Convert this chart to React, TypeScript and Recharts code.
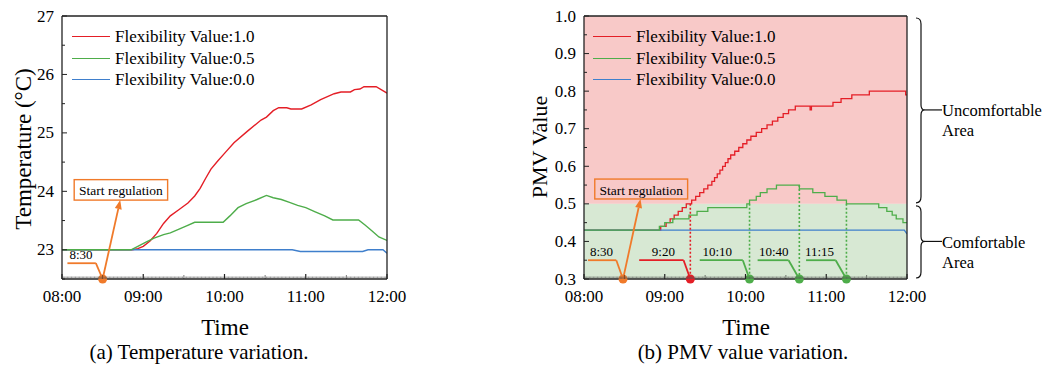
import React from 'react';
import {
  ComposedChart,
  Line,
  XAxis,
  YAxis,
  Legend,
  ReferenceArea,
  ReferenceLine,
  ReferenceDot,
} from 'recharts';

const FONT = '"Liberation Serif", "Times New Roman", serif';
const AXIS = '#222';
const INK = '#000';
const RED = '#e41e26';
const GREEN = '#4ead4a';
const BLUE = '#3f7fcc';
const ORANGE = '#f07a2a';
const PINK_BG = '#f8c9c8';
const GREEN_BG = '#d7e8d3';

const SERIES_NAMES = ['Flexibility Value:1.0', 'Flexibility Value:0.5', 'Flexibility Value:0.0'];
const SERIES_COLORS = [RED, GREEN, BLUE];

// x values are minutes after 08:00
const HOUR_LABELS = ['08:00', '09:00', '10:00', '11:00', '12:00'];
const MINUTE_TICKS = Array.from({ length: 241 }, (_, i) => i);
const FRAME_TICKS = [0, 1, 2, 3, 4, 5, 6, 7, 8, 9, 10];
const TEMP_TICKS = [22.5, 23, 23.5, 24, 24.5, 25, 25.5, 26, 26.5, 27];
const PMV_TICKS = [0.3, 0.35, 0.4, 0.45, 0.5, 0.55, 0.6, 0.65, 0.7, 0.75, 0.8, 0.85, 0.9, 0.95, 1.0];

// (a) temperature
const TEMP_T_10 = [0, 52, 56, 60, 65, 70, 75, 80, 86, 93, 98, 102, 106, 110, 115, 120, 127, 137, 147, 151, 156, 160, 166, 169, 177, 184, 191, 201, 206, 213, 216, 220, 223, 232, 240];
const TEMP_V_10 = [23.0, 23.0, 23.02, 23.06, 23.15, 23.28, 23.45, 23.58, 23.68, 23.8, 23.92, 24.05, 24.22, 24.38, 24.52, 24.65, 24.83, 25.03, 25.22, 25.27, 25.38, 25.43, 25.43, 25.41, 25.41, 25.48, 25.57, 25.67, 25.7, 25.7, 25.74, 25.75, 25.79, 25.79, 25.68];
const TEMP_T_05 = [0, 51, 56, 62, 68, 75, 80, 86, 92, 98, 119, 124, 130, 136, 144, 151, 156, 162, 168, 174, 180, 187, 194, 200, 219, 224, 229, 234, 240];
const TEMP_V_05 = [23.0, 23.0, 23.06, 23.13, 23.2, 23.26, 23.29, 23.35, 23.41, 23.47, 23.47, 23.58, 23.72, 23.79, 23.86, 23.93, 23.89, 23.86, 23.81, 23.76, 23.72, 23.65, 23.58, 23.51, 23.51, 23.42, 23.32, 23.22, 23.16];
const TEMP_T_00 = [0, 170, 176, 222, 226, 237, 240];
const TEMP_V_00 = [23.0, 23.0, 22.97, 22.97, 23.0, 23.0, 22.94];

// (b) PMV
const PMV_T_10 = [0, 57, 61, 64, 67, 70, 73, 76, 80, 83, 86, 89, 92, 95, 97, 99, 101, 103, 105, 107, 109, 112, 115, 118, 121, 124, 128, 132, 136, 140, 144, 148, 152, 157, 168, 169, 185, 191, 199, 212, 239, 240];
const PMV_V_10 = [0.43, 0.44, 0.45, 0.46, 0.47, 0.48, 0.49, 0.5, 0.51, 0.52, 0.53, 0.54, 0.55, 0.56, 0.57, 0.58, 0.59, 0.6, 0.61, 0.62, 0.63, 0.64, 0.65, 0.66, 0.67, 0.68, 0.69, 0.7, 0.71, 0.72, 0.73, 0.74, 0.75, 0.76, 0.75, 0.76, 0.77, 0.78, 0.79, 0.8, 0.79, 0.79];
const PMV_T_05 = [0, 56, 60, 66, 78, 84, 92, 121, 123, 128, 131, 136, 143, 160, 170, 179, 188, 195, 219, 225, 229, 232, 237, 240];
const PMV_V_05 = [0.43, 0.44, 0.45, 0.46, 0.47, 0.48, 0.49, 0.5, 0.51, 0.52, 0.53, 0.54, 0.55, 0.54, 0.53, 0.52, 0.51, 0.5, 0.49, 0.48, 0.47, 0.46, 0.45, 0.45];
const PMV_T_00 = [0, 238, 240];
const PMV_V_00 = [0.43, 0.43, 0.42];

// annotations: callout line start/knee, marker time, label centre
const TEMP_CALLOUTS = [{ label: '8:30', color: ORANGE, x0: 4, x1: 25, xd: 30, lx: 14 }];
const PMV_CALLOUTS = [
  { label: '8:30', color: ORANGE, x0: 3, x1: 24, xd: 29, lx: 13 },
  { label: '9:20', color: RED, x0: 41, x1: 74, xd: 79, lx: 59 },
  { label: '10:10', color: GREEN, x0: 86, x1: 118, xd: 123, lx: 99 },
  { label: '10:40', color: GREEN, x0: 129, x1: 152, xd: 160, lx: 141 },
  { label: '11:15', color: GREEN, x0: 165, x1: 187, xd: 195, lx: 175 },
];
const PMV_DROPS = [
  { x: 79, top: 0.5, color: RED },
  { x: 123, top: 0.5, color: GREEN },
  { x: 160, top: 0.55, color: GREEN },
  { x: 195, top: 0.5, color: GREEN },
];

const zip = (t: number[], v: number[]) => t.map((x, i) => ({ t: x, v: v[i] }));

const txt: React.CSSProperties = { fontFamily: FONT };

const BottomTick = (props: any) => {
  const { x, y, payload } = props;
  const m = payload.value as number;
  const hour = m % 60 === 0;
  const half = m % 30 === 0;
  const len = hour ? 5 : half ? 4 : 2.5;
  return (
    <g>
      <line x1={x} y1={y} x2={x} y2={y - len} stroke={hour || half ? AXIS : '#555'} strokeWidth={hour ? 1.2 : 0.6} />
      {hour && (
        <text x={x} y={y + 17} textAnchor="middle" dominantBaseline="central" fontSize={17} style={txt} fill={INK}>
          {HOUR_LABELS[m / 60]}
        </text>
      )}
    </g>
  );
};

const TopTick = (props: any) => {
  const { x, y, payload } = props;
  const major = payload.value % 2 === 0;
  return <line x1={x} y1={y} x2={x} y2={y + (major ? 5 : 3)} stroke={AXIS} strokeWidth={1} />;
};

const RightTick = (props: any) => {
  const { x, y, payload } = props;
  const major = payload.value % 2 === 0;
  return <line x1={x} y1={y} x2={x - (major ? 5 : 3)} y2={y} stroke={AXIS} strokeWidth={1} />;
};

function makeLeftTick(isMajor: (v: number) => boolean, fmt: (v: number) => string) {
  return (props: any) => {
    const { x, y, payload } = props;
    const v = payload.value as number;
    const major = isMajor(v);
    return (
      <g>
        <line x1={x} y1={y} x2={x + (major ? 5 : 3)} y2={y} stroke={AXIS} strokeWidth={1} />
        {major && (
          <text x={x - 8} y={y} textAnchor="end" dominantBaseline="central" fontSize={17} style={txt} fill={INK}>
            {fmt(v)}
          </text>
        )}
      </g>
    );
  };
}

const arrowShape = (p: any) => {
  const { x1, y1, x2, y2 } = p;
  const a = Math.atan2(y2 - y1, x2 - x1);
  const bx = x2 - 9 * Math.cos(a);
  const by = y2 - 9 * Math.sin(a);
  const px = -Math.sin(a) * 3.5;
  const py = Math.cos(a) * 3.5;
  return (
    <g>
      <line x1={x1} y1={y1} x2={bx} y2={by} stroke={ORANGE} strokeWidth={1.8} />
      <polygon points={`${x2},${y2} ${bx + px},${by + py} ${bx - px},${by - py}`} fill={ORANGE} />
    </g>
  );
};

const boxShape = (p: any) => (
  <g>
    <rect x={p.x} y={p.y} width={p.width} height={p.height} fill="none" stroke={ORANGE} strokeWidth={1.4} />
    <text
      x={p.x + p.width / 2}
      y={p.y + p.height / 2 + 1}
      textAnchor="middle"
      dominantBaseline="central"
      fontSize={13.5}
      style={txt}
      fill={INK}
    >
      Start regulation
    </text>
  </g>
);

const calloutText = (label: string) => (p: any) => (
  <text x={p.cx} y={p.cy - 9} textAnchor="middle" dominantBaseline="central" fontSize={13} style={txt} fill={INK}>
    {label}
  </text>
);

function zoneShape(fill: string, lines: string[]) {
  return (p: any) => {
    const { x, y, width, height } = p;
    const bx = x + width + 14;
    const ym = y + height / 2;
    const y0 = y + 2;
    const y1 = y + height - 1;
    const d = `M${bx - 5},${y0} Q${bx},${y0} ${bx},${y0 + 6} L${bx},${ym - 5} Q${bx},${ym} ${bx + 4},${ym} Q${bx},${ym} ${bx},${ym + 5} L${bx},${y1 - 6} Q${bx},${y1} ${bx - 5},${y1}`;
    return (
      <g>
        <rect x={x} y={y} width={width} height={height} fill={fill} />
        <path d={d} fill="none" stroke="#111" strokeWidth={1.2} />
        <line x1={bx + 4} y1={ym} x2={bx + 21} y2={ym} stroke="#111" strokeWidth={1.2} />
        {lines.map((s, i) => (
          <text key={s} x={bx + 21} y={ym + 1 + i * 20} dominantBaseline="central" fontSize={16.5} style={txt} fill={INK}>
            {s}
          </text>
        ))}
      </g>
    );
  };
}

const legendContent = () => (
  <div style={{ fontFamily: FONT, fontSize: 17, color: INK, lineHeight: 1 }}>
    {SERIES_NAMES.map((n, i) => (
      <div key={n} style={{ display: 'flex', alignItems: 'center', height: 21.5, whiteSpace: 'nowrap' }}>
        <span style={{ width: 38, height: 0, borderTop: `1.6px solid ${SERIES_COLORS[i]}`, marginRight: 5 }} />
        <span>{n}</span>
      </div>
    ))}
  </div>
);

function TempChart() {
  return (
    <ComposedChart width={420} height={367} margin={{ top: 15, right: 32, left: 0, bottom: 58 }}>
      <XAxis
        dataKey="t"
        type="number"
        domain={[0, 240]}
        allowDataOverflow
        ticks={MINUTE_TICKS}
        interval={0}
        height={30}
        tickSize={0}
        tickMargin={0}
        tickLine={false}
        tick={BottomTick}
        axisLine={{ stroke: AXIS, strokeWidth: 1.3 }}
      />
      <XAxis xAxisId="top" orientation="top" type="number" domain={[0, 10]} ticks={FRAME_TICKS} interval={0} height={1} tickSize={0} tickMargin={0} tickLine={false} tick={TopTick} axisLine={{ stroke: AXIS, strokeWidth: 1.3 }} />
      <YAxis
        type="number"
        domain={[22.5, 27]}
        allowDataOverflow
        ticks={TEMP_TICKS}
        interval={0}
        width={62}
        tickSize={0}
        tickMargin={0}
        tickLine={false}
        tick={makeLeftTick((v) => Number.isInteger(v), (v) => String(v))}
        axisLine={{ stroke: AXIS, strokeWidth: 1.3 }}
      />
      <YAxis yAxisId="frame" orientation="right" type="number" domain={[0, 10]} ticks={FRAME_TICKS} interval={0} width={1} tickSize={0} tickMargin={0} tickLine={false} tick={RightTick} axisLine={{ stroke: AXIS, strokeWidth: 1.3 }} />
      <Legend content={legendContent} layout="vertical" align="center" verticalAlign="middle" wrapperStyle={{ left: 72, top: 26, width: 'auto' }} />

      <Line data={zip(TEMP_T_10, TEMP_V_10)} dataKey="v" name={SERIES_NAMES[0]} stroke={RED} strokeWidth={1.4} dot={false} isAnimationActive={false} />
      <Line data={zip(TEMP_T_00, TEMP_V_00)} dataKey="v" name={SERIES_NAMES[2]} stroke={BLUE} strokeWidth={1.4} dot={false} isAnimationActive={false} />
      <Line data={zip(TEMP_T_05, TEMP_V_05)} dataKey="v" name={SERIES_NAMES[1]} stroke={GREEN} strokeWidth={1.4} dot={false} isAnimationActive={false} />

      <ReferenceArea x1={9} x2={78} y1={23.85} y2={24.2} shape={boxShape} ifOverflow="visible" />
      <ReferenceLine segment={[{ x: 30, y: 22.5 }, { x: 43, y: 23.85 }]} shape={arrowShape} ifOverflow="visible" />
      {TEMP_CALLOUTS.map((c) => (
        <React.Fragment key={c.label}>
          <ReferenceLine segment={[{ x: c.x0, y: 22.77 }, { x: c.x1, y: 22.77 }]} stroke={c.color} strokeWidth={1.8} ifOverflow="visible" />
          <ReferenceLine segment={[{ x: c.x1, y: 22.77 }, { x: c.xd, y: 22.5 }]} stroke={c.color} strokeWidth={1.8} ifOverflow="visible" />
          <ReferenceDot x={c.lx} y={22.77} r={0} shape={calloutText(c.label)} ifOverflow="visible" />
          <ReferenceDot x={c.xd} y={22.5} r={4.5} fill={c.color} stroke="none" ifOverflow="visible" />
        </React.Fragment>
      ))}
    </ComposedChart>
  );
}

function PmvChart() {
  return (
    <ComposedChart width={526} height={367} margin={{ top: 15, right: 138, left: 0, bottom: 58 }}>
      <XAxis
        dataKey="t"
        type="number"
        domain={[0, 240]}
        allowDataOverflow
        ticks={MINUTE_TICKS}
        interval={0}
        height={30}
        tickSize={0}
        tickMargin={0}
        tickLine={false}
        tick={BottomTick}
        axisLine={{ stroke: AXIS, strokeWidth: 1.3 }}
      />
      <XAxis xAxisId="top" orientation="top" type="number" domain={[0, 10]} ticks={FRAME_TICKS} interval={0} height={1} tickSize={0} tickMargin={0} tickLine={false} tick={TopTick} axisLine={{ stroke: AXIS, strokeWidth: 1.3 }} />
      <YAxis
        type="number"
        domain={[0.3, 1.0]}
        allowDataOverflow
        ticks={PMV_TICKS}
        interval={0}
        width={64}
        tickSize={0}
        tickMargin={0}
        tickLine={false}
        tick={makeLeftTick((v) => Math.round(v * 100) % 10 === 0, (v) => v.toFixed(1))}
        axisLine={{ stroke: AXIS, strokeWidth: 1.3 }}
      />
      <YAxis yAxisId="frame" orientation="right" type="number" domain={[0, 10]} ticks={FRAME_TICKS} interval={0} width={1} tickSize={0} tickMargin={0} tickLine={false} tick={RightTick} axisLine={{ stroke: AXIS, strokeWidth: 1.3 }} />
      <Legend content={legendContent} layout="vertical" align="center" verticalAlign="middle" wrapperStyle={{ left: 73, top: 26, width: 'auto' }} />

      <ReferenceArea y1={0.5} y2={1.0} shape={zoneShape(PINK_BG, ['Uncomfortable', 'Area'])} ifOverflow="visible" />
      <ReferenceArea y1={0.3} y2={0.5} shape={zoneShape(GREEN_BG, ['Comfortable', 'Area'])} ifOverflow="visible" />

      <Line data={zip(PMV_T_10, PMV_V_10)} dataKey="v" name={SERIES_NAMES[0]} type="stepAfter" stroke={RED} strokeWidth={1.3} dot={false} isAnimationActive={false} />
      <Line data={zip(PMV_T_00, PMV_V_00)} dataKey="v" name={SERIES_NAMES[2]} stroke={BLUE} strokeWidth={1.4} dot={false} isAnimationActive={false} />
      <Line data={zip(PMV_T_05, PMV_V_05)} dataKey="v" name={SERIES_NAMES[1]} type="stepAfter" stroke={GREEN} strokeWidth={1.3} dot={false} isAnimationActive={false} />

      {PMV_DROPS.map((d) => (
        <ReferenceLine key={d.x} segment={[{ x: d.x, y: d.top }, { x: d.x, y: 0.3 }]} stroke={d.color} strokeWidth={1.6} strokeDasharray="2 2" ifOverflow="visible" />
      ))}
      <ReferenceArea x1={8} x2={77} y1={0.513} y2={0.566} shape={boxShape} ifOverflow="visible" />
      <ReferenceLine segment={[{ x: 29, y: 0.3 }, { x: 42, y: 0.513 }]} shape={arrowShape} ifOverflow="visible" />
      {PMV_CALLOUTS.map((c) => (
        <React.Fragment key={c.label}>
          <ReferenceLine segment={[{ x: c.x0, y: 0.35 }, { x: c.x1, y: 0.35 }]} stroke={c.color} strokeWidth={1.8} ifOverflow="visible" />
          <ReferenceLine segment={[{ x: c.x1, y: 0.35 }, { x: c.xd, y: 0.3 }]} stroke={c.color} strokeWidth={1.8} ifOverflow="visible" />
          <ReferenceDot x={c.lx} y={0.35} r={0} shape={calloutText(c.label)} ifOverflow="visible" />
          <ReferenceDot x={c.xd} y={0.3} r={4.5} fill={c.color} stroke="none" ifOverflow="visible" />
        </React.Fragment>
      ))}
    </ComposedChart>
  );
}

const textStyle: React.CSSProperties = {
  position: 'absolute',
  fontFamily: FONT,
  color: INK,
  lineHeight: 1,
  whiteSpace: 'nowrap',
  transform: 'translate(-50%, -50%)',
};

export default function App() {
  return (
    <div style={{ position: 'absolute', left: 0, top: 0, width: 1046, height: 367, background: '#fff', overflow: 'hidden', fontFamily: FONT }}>
      <div style={{ position: 'absolute', left: 0, top: 0 }}>
        <TempChart />
      </div>
      <div style={{ position: 'absolute', left: 520, top: 0 }}>
        <PmvChart />
      </div>
      <div style={{ ...textStyle, left: 23, top: 149, fontSize: 23, transform: 'translate(-50%, -50%) rotate(-90deg)' }}>Temperature (°C)</div>
      <div style={{ ...textStyle, left: 540, top: 147, fontSize: 22, transform: 'translate(-50%, -50%) rotate(-90deg)' }}>PMV Value</div>
      <div style={{ ...textStyle, left: 225, top: 327, fontSize: 23 }}>Time</div>
      <div style={{ ...textStyle, left: 746, top: 327, fontSize: 23 }}>Time</div>
      <div style={{ ...textStyle, left: 199, top: 352, fontSize: 21 }}>(a) Temperature variation.</div>
      <div style={{ ...textStyle, left: 743, top: 352, fontSize: 21 }}>(b) PMV value variation.</div>
    </div>
  );
}
